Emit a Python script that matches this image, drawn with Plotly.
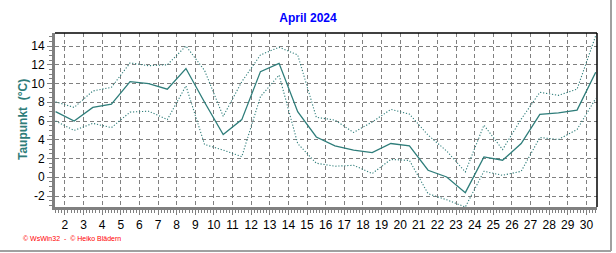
import plotly.graph_objects as go

days = list(range(1, 31))
dew_mean = [7.0, 6.0, 7.45, 7.8, 10.2, 10.0, 9.4, 11.6, 8.0, 4.55,
            6.15, 11.27, 12.15, 7.0, 4.3, 3.35, 2.9, 2.64, 3.6, 3.35,
            0.75, 0.03, -1.64, 2.17, 1.82, 3.6, 6.7, 6.88, 7.17, 11.2]
dew_max = [8.05, 7.45, 9.2, 9.6, 12.2, 11.9, 12.0, 14.0, 11.4, 6.5,
           10.2, 13.05, 13.87, 13.05, 6.4, 6.1, 4.78, 5.9, 7.24, 6.74,
           4.5, 2.8, 0.57, 5.56, 2.95, 6.2, 9.06, 8.74, 9.4, 15.1]
dew_min = [6.0, 5.0, 5.75, 5.3, 6.95, 7.05, 6.15, 9.75, 3.5, 2.9,
           2.2, 8.6, 10.9, 3.6, 1.5, 1.18, 1.28, 0.4, 1.9, 1.8,
           -1.75, -2.4, -3.17, 0.64, 0.21, 0.64, 4.24, 4.03, 5.1, 8.4]
x_tick_vals = list(range(2, 31))
y_tick_vals = list(range(-2, 15, 2))

xpos = [d + 0.5 for d in days]
teal = "#2E7D7A"

fig = go.Figure()
fig.add_trace(go.Scatter(x=xpos, y=dew_max, mode="lines",
                         line=dict(color=teal, width=1.1, dash="1.2px,1.8px"), showlegend=False))
fig.add_trace(go.Scatter(x=xpos, y=dew_min, mode="lines",
                         line=dict(color=teal, width=1.1, dash="1.2px,1.8px"), showlegend=False))
fig.add_trace(go.Scatter(x=xpos, y=dew_mean, mode="lines",
                         line=dict(color=teal, width=1.3), showlegend=False))

L, R, T, B = 55, 19, 33, 46
W, H = 616, 253
pw, ph = W - L - R, H - T - B

def px(p):
    return (p - L) / pw

def py(p):
    return (H - B - p) / ph

fig.update_layout(
    width=W, height=H,
    margin=dict(l=L, r=R, t=T, b=B, pad=0),
    paper_bgcolor="white", plot_bgcolor="white",
    font=dict(family="Liberation Sans, Arial, sans-serif", size=12, color="black"),
    title=dict(text="<b>April 2024</b>", x=0.5, xref="container", xanchor="center",
               y=1 - 18 / H, yanchor="middle", yref="container",
               font=dict(size=12, color="#0000FF")),
    xaxis=dict(range=[1.47, 30.57], tickmode="array", tickvals=x_tick_vals,
               ticktext=[str(v) for v in x_tick_vals],
               showgrid=True, gridcolor="#808080", griddash="4px,3px", gridwidth=1,
               zeroline=False, showline=True, linecolor="#808080", linewidth=3,
               ticks="outside", ticklen=5, tickcolor="#808080", tickwidth=1,
               minor=dict(dtick=1 / 6, tick0=0, ticks="outside", ticklen=3,
                          tickcolor="#808080", showgrid=False),
               tickfont=dict(size=12)),
    yaxis=dict(range=[-3.17, 15.39], tickmode="array", tickvals=y_tick_vals,
               ticktext=[str(v) for v in y_tick_vals],
               showgrid=True, gridcolor="#808080", griddash="4px,3px", gridwidth=1,
               zeroline=False, showline=True, linecolor="#808080", linewidth=3,
               ticks="outside", ticklen=5, tickcolor="#808080", tickwidth=1,
               minor=dict(dtick=0.5, tick0=0, ticks="outside", ticklen=3,
                          tickcolor="#808080", showgrid=False),
               tickfont=dict(size=12)),
    shapes=[
        dict(type="line", xref="paper", yref="paper", x0=0, x1=1, y0=1, y1=1,
             line=dict(color="black", width=1.5)),
        dict(type="line", xref="paper", yref="paper", x0=1, x1=1, y0=0, y1=1,
             line=dict(color="black", width=1.5)),
        dict(type="line", xref="paper", yref="paper", x0=px(611), x1=px(611),
             y0=py(251), y1=py(0), line=dict(color="#A0A0A0", width=2)),
        dict(type="line", xref="paper", yref="paper", x0=px(0), x1=px(611),
             y0=py(251), y1=py(251), line=dict(color="#A0A0A0", width=2)),
    ],
    annotations=[
        dict(text="<b>Taupunkt  (°C)</b>", textangle=-90, xref="paper", yref="paper",
             x=px(23), y=py(120), xanchor="center", yanchor="middle", showarrow=False,
             font=dict(size=12, color="#2E7D7A")),
        dict(text="© WsWin32  -  © Heiko Blädern", xref="paper", yref="paper",
             x=px(21), y=py(238), xanchor="left", yanchor="middle", showarrow=False,
             font=dict(size=7, color="#FF0000")),
    ],
)

fig.write_html("out.html")
